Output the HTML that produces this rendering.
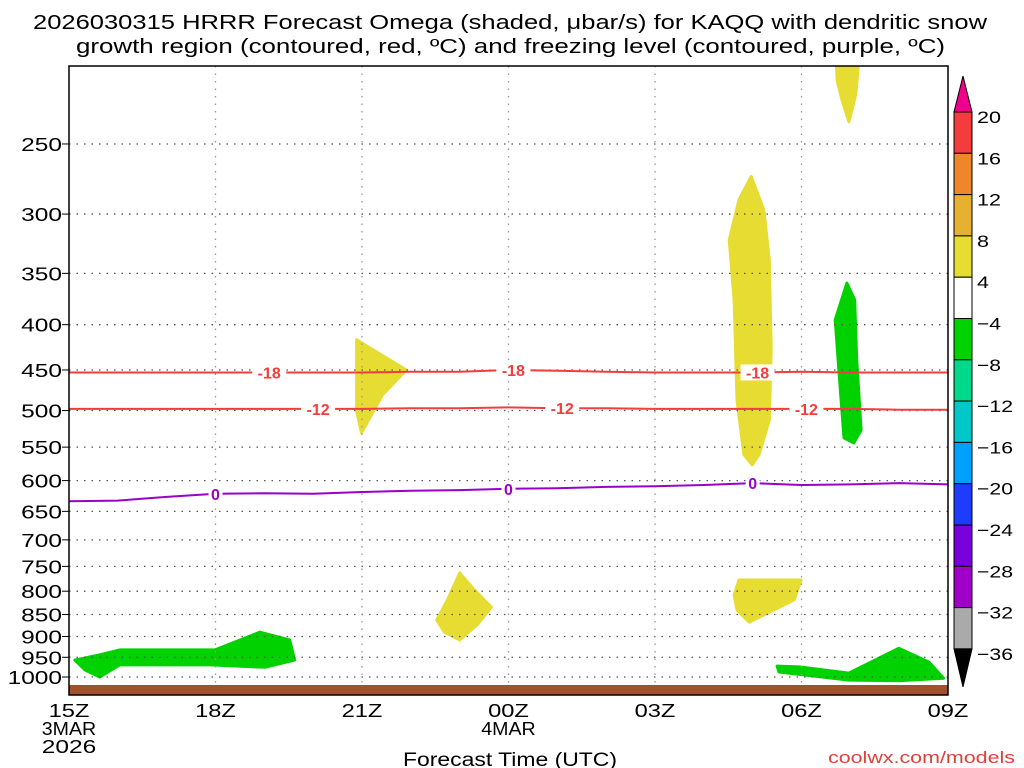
<!DOCTYPE html>
<html><head><meta charset="utf-8"><style>
html,body{margin:0;padding:0;background:#fff;}
svg{display:block;font-family:"Liberation Sans",sans-serif;}
</style></head><body>
<svg id="chart" width="1024" height="768" viewBox="0 0 1024 768" xmlns="http://www.w3.org/2000/svg">
<rect width="1024" height="768" fill="#fff"/>
<text x="33" y="29" font-size="20" textLength="954" lengthAdjust="spacingAndGlyphs">2026030315 HRRR Forecast Omega (shaded, μbar/s) for KAQQ with dendritic snow</text>
<text x="76" y="53" font-size="20" textLength="869" lengthAdjust="spacingAndGlyphs">growth region (contoured, red, ºC) and freezing level (contoured, purple, ºC)</text>
<g id="plot"></g>
<g id="cbar"></g>
<text x="403" y="766" font-size="19" textLength="214" lengthAdjust="spacingAndGlyphs">Forecast Time (UTC)</text>
<text x="828" y="763" font-size="17" textLength="187" lengthAdjust="spacingAndGlyphs" fill="#e0403a">coolwx.com/models</text>
</svg>
<script>
const pressureTicks=[250,300,350,400,450,500,550,600,650,700,750,800,850,900,950,1000];
const hourTicks=[0,3,6,9,12,15,18];
const hourLabels=["15Z","18Z","21Z","00Z","03Z","06Z","09Z"];
const hours=[0,1,2,3,4,5,6,7,8,9,10,11,12,13,14,15,16,17,18];
const isoM18=[453,453,453,453,453,453,453,452,452,450,451,452,453,453,453,452,453,453,453];
const isoM12=[498,498,498,498,498,498,498,497,497,496,497,497,498,498,498,498,498,499,499];
const freezing=[633,632,626,621,620,621,618,616,615,613,612,610,609,607,604,607,606,604,606];
const m18Labels=[[4.1,"-18"],[9.1,"-18"],[14.1,"-18"]];
const m12Labels=[[5.1,"-12"],[10.1,"-12"],[15.1,"-12"]];
const fzLabels=[[3.0,"0"],[9.0,"0"],[14.0,"0"]];
const yellowBlobs=[
 [[5.89,416],[6.91,450],[6.42,480],[5.99,530],[5.89,500]],
 [[13.97,272],[14.23,297],[14.34,338],[14.38,427],[14.34,513],[14.13,561],[13.99,576],[13.82,561],[13.68,487],[13.62,375],[13.52,321],[13.72,289]],
 [[15.71,200],[16.18,200],[16.11,220],[15.97,236],[15.83,223],[15.73,212]],
 [[8.0,763],[8.30,797],[8.65,834],[8.36,873],[8.0,908],[7.69,890],[7.53,862],[7.75,818]],
 [[13.72,777],[14.99,777],[14.85,818],[14.34,845],[13.93,867],[13.68,840],[13.62,808]]
];
const greenBlobs=[
 [[15.93,359],[16.09,375],[16.13,438],[16.22,526],[16.07,544],[15.87,537],[15.81,487],[15.69,395]],
 [[0.63,944],[1.04,932],[2.99,932],[3.91,890],[4.52,908],[4.62,957],[4.01,975],[2.88,969],[1.04,969],[0.63,1000],[0.33,982],[0.12,957]],
 [[14.50,972],[14.95,974],[15.97,990],[16.99,928],[17.61,962],[17.91,1003],[16.99,1010],[15.97,1008],[14.54,987]]
];
const cbarLevels=["20","16","12","8","4","−4","−8","−12","−16","−20","−24","−28","−32","−36"];
const cbarColors=["#f53c3c","#f0862a","#e6b030","#e6dc32","#ffffff","#00d200","#00d98c","#00c8c8","#00a0ff","#1e3cff","#7800dc","#a000c8","#aaaaaa"];

const NS="http://www.w3.org/2000/svg";
const X0=69,X1=948,Y0=66,Y1=695;
function xs(h){return X0+(h/18)*(X1-X0);}
function ys(p){return 677-384.5*Math.log(1000/p);}
function mk(tag,attrs,parent){const e=document.createElementNS(NS,tag);for(const k in attrs)e.setAttribute(k,attrs[k]);parent.appendChild(e);return e;}
const plot=document.getElementById('plot');
const svg=document.getElementById('chart');
const defs=mk('defs',{},svg);
const cp=mk('clipPath',{id:'pc'},defs);
mk('rect',{x:X0,y:Y0,width:X1-X0,height:Y1-Y0},cp);
const inner=mk('g',{'clip-path':'url(#pc)'},plot);


function blob(pts,color,name){
  const e=mk('polygon',{points:pts.map(p=>xs(p[0]).toFixed(1)+','+ys(p[1]).toFixed(1)).join(' '),fill:color,stroke:color,'stroke-width':3,'stroke-linejoin':'round'},inner);
  
  
}
yellowBlobs.forEach((b,i)=>blob(b,'#e6dc32','omega-positive-region-'+(i+1)));
greenBlobs.forEach((b,i)=>blob(b,'#00d200','omega-negative-region-'+(i+1)));
pressureTicks.forEach(p=>{
  const l=mk('line',{x1:X0,x2:X1,y1:ys(p),y2:ys(p),stroke:'#555','stroke-width':1.3,'stroke-dasharray':'1.5 6'},inner);
  
  
});
hourTicks.slice(1,-1).forEach(h=>{
  const l=mk('line',{x1:xs(h),x2:xs(h),y1:Y0,y2:Y1,stroke:'#999','stroke-width':1.3,'stroke-dasharray':'1.5 6'},inner);
  
  
});
const g=mk('rect',{x:X0,y:685,width:X1-X0,height:10,fill:'#a0522d'},inner);


function contour(vals,color,name,labels){
  const d=hours.map((h,i)=>(i?'L':'M')+xs(h).toFixed(1)+','+ys(vals[i]).toFixed(1)).join(' ');
  const e=mk('path',{d:d,fill:'none',stroke:color,'stroke-width':2},inner);
  
  
  labels.forEach(([h,t])=>{
    const i=Math.floor(h),f=h-i;const p=vals[i]*(1-f)+vals[Math.min(i+1,vals.length-1)]*f;
    const w=t.length*10+4;
    const bg=mk('rect',{x:xs(h)-w/2,y:ys(p)-8,width:w,height:16,fill:'#fff'},inner);
    
    
    const tx=mk('text',{x:xs(h),y:ys(p)+6,'text-anchor':'middle','font-size':16,'font-weight':'bold',fill:color},inner);
    tx.textContent=t;
    
    
  });
}
contour(isoM18,'#f53c3c','isotherm-minus18',m18Labels);
contour(isoM12,'#f53c3c','isotherm-minus12',m12Labels);
contour(freezing,'#9a00c8','freezing-level',fzLabels);
const fr=mk('rect',{x:X0,y:Y0,width:X1-X0,height:Y1-Y0,fill:'none',stroke:'#000','stroke-width':1.5},plot);


function wtext(parent,s,x,y,anchorMid,size){
  const w=s.replace('−','-').length*13.6;
  const x0=anchorMid?x-w/2:x-w;
  const t=mk('text',{x:x0,y:y,'font-size':size,textLength:w,lengthAdjust:'spacingAndGlyphs'},parent);
  t.textContent=s;return t;
}
pressureTicks.forEach(p=>{
  const t=wtext(plot,String(p),62,ys(p)+7,false,18);
  
  
  const tk=mk('line',{x1:62,x2:X0,y1:ys(p),y2:ys(p),stroke:'#000'},plot);
  
  
});
hourTicks.forEach((h,i)=>{
  const t=wtext(plot,hourLabels[i],xs(h),717,true,18);
  
  
  if(i===3){const t2=wtext(plot,'4MAR',xs(h),735,true,18);
    
    }
});
[['3MAR',735],['2026',753]].forEach(([s,y])=>{const t=wtext(plot,s,xs(0),y,true,18);
  
  });
const cb=document.getElementById('cbar');
const CX=954,CW=18,CT=112,CS=41.3;
const up=mk('polygon',{points:`${CX},${CT} ${CX+CW},${CT} ${CX+CW/2},${CT-36}`,fill:'#f0008c',stroke:'#000'},cb);


cbarColors.forEach((c,i)=>{
  const r=mk('rect',{x:CX,y:CT+i*CS,width:CW,height:CS,fill:c,stroke:'#000','stroke-width':1},cb);
  
  
});
const bot=CT+cbarColors.length*CS;
const dn=mk('polygon',{points:`${CX},${bot} ${CX+CW},${bot} ${CX+CW/2},${bot+38}`,fill:'#000',stroke:'#000'},cb);


cbarLevels.forEach((s,i)=>{
  const w=s.length*12;
  const t=mk('text',{x:977,y:CT+i*CS+11,'font-size':17,textLength:w,lengthAdjust:'spacingAndGlyphs'},cb);
  t.textContent=s;
  
  
});
</script>
</body></html>
